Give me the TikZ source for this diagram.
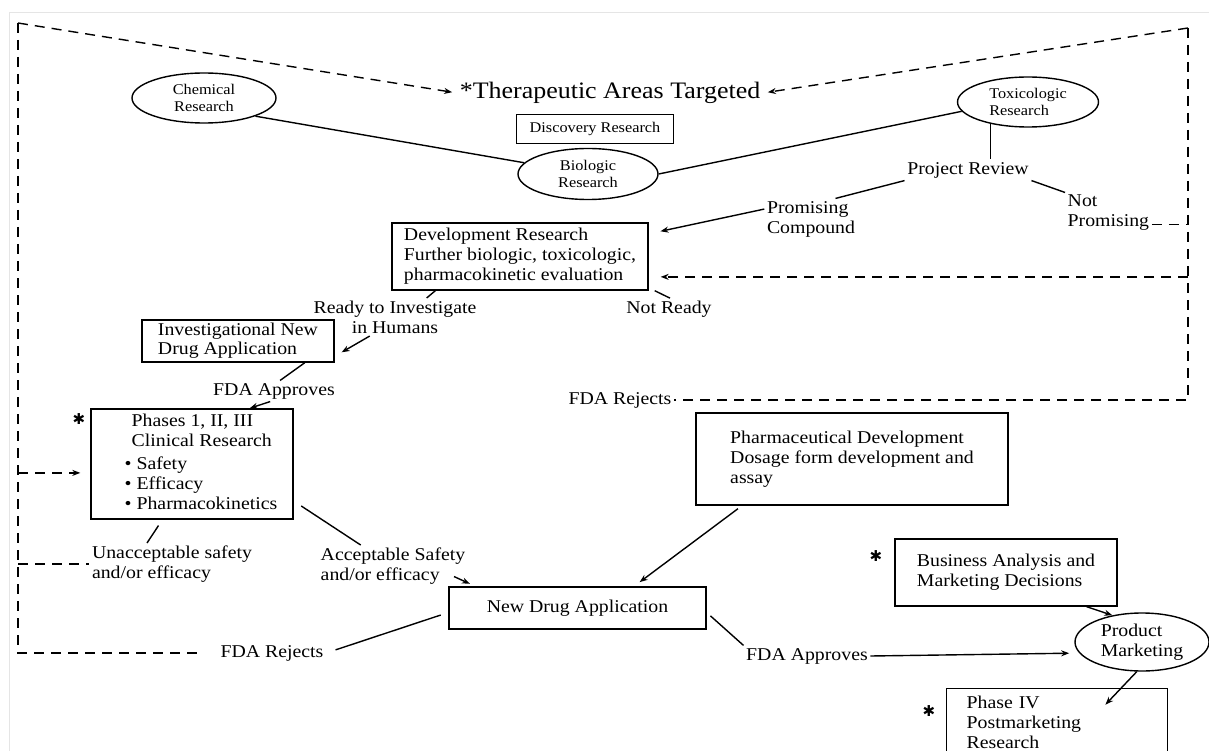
\documentclass[tikz,border=0pt]{standalone}
\usepackage{fontspec}
\setmainfont{Liberation Serif}[FakeStretch=1.1]
\newfontfamily\symfont{DejaVu Sans}
\usetikzlibrary{shapes.geometric, arrows.meta}
\newcommand{\titlesz}{\fontsize{23.6}{26}\selectfont}
\newcommand{\mainsz}{\fontsize{18}{20}\selectfont}
\newcommand{\smallsz}{\fontsize{14.8}{17}\selectfont}

\begin{document}
\begin{tikzpicture}[x=1pt, y=-1pt, >={Stealth[length=8pt,width=6pt]}, line width=1.4pt,
	every node/.style={font=\mainsz, inner sep=2pt, align=left},
	oval/.style={draw, ellipse, inner sep=0pt, font=\smallsz},
	box/.style={draw, rectangle, inner sep=0pt},
	dashline/.style={dash pattern=on 10pt off 7pt},
	star/.style={font=\symfont\fontsize{15}{15}\selectfont, inner sep=0pt}]
	\useasboundingbox (0,0) rectangle (1209,751);
	\clip (0,0) rectangle (1209,751);
	\draw[black!10, line width=1pt] (9,751) -- (9,13) -- (1209,13);
	\coordinate (tl) at (18,23);
	\coordinate (tr) at (1188,28);

	% discovery
	\node (areas) [font=\titlesz] at (610,93) {*Therapeutic Areas Targeted};
	\node (disc) [box, font=\smallsz, minimum width=157pt, minimum height=29pt] at (595,129) {Discovery Research};
	\node (chem) [oval, minimum width=144pt, minimum height=50pt, align=center] at (204,98) {Chemical\\Research};
	\node (bio) [oval, minimum width=140pt, minimum height=51pt, align=center] at (588,174) {Biologic\\Research};
	\node (tox) [oval, minimum width=141pt, minimum height=50pt] at (1028,102) {Toxicologic\\Research};
	\node (review) at (968,170) {Project Review};
	\node (promising) at (811,219) {Promising\\Compound};
	\node (notprom) [anchor=west] at (1065,213) {Not\\Promising};

	% development
	\node (devres) [box, minimum width=256pt, minimum height=67pt] at (520,256.5) {Development Research\\Further biologic, toxicologic,\\pharmacokinetic evaluation};
	\node (ready) [align=center] at (395,317) {Ready to Investigate\\in Humans};
	\node (notready) at (669,309) {Not Ready};
	\node (ind) [box, minimum width=192pt, minimum height=42pt, font=\fontsize{18}{19}\selectfont] at (238,341) {Investigational New\\Drug Application};
	\node (fdaok) at (274,391) {FDA Approves};
	\node (rejtop) at (620,400) {FDA Rejects};

	% clinical
	\node (phases) [box, minimum width=202pt, minimum height=110pt] at (192,464) {\hspace*{18pt}\begin{tabular}{@{}l@{}}\hspace*{7pt}Phases 1, II, III\\ \hspace*{7pt}Clinical Research\\[3pt] \textbullet~Safety\\ \textbullet~Efficacy\\ \textbullet~Pharmacokinetics\end{tabular}};
	\node (unacc) at (172,564) {Unacceptable safety\\and/or efficacy};
	\node (acc) at (393,566) {Acceptable Safety\\and/or efficacy};
	\node (pharm) [box, minimum width=312pt, minimum height=92pt] at (852,459) {Pharmaceutical Development\\Dosage form development and\\assay};
	\node (nda) [box, minimum width=257pt, minimum height=42pt] at (577.5,608) {New Drug Application};
	\node (rejbot) at (272,653) {FDA Rejects};
	\node (fdaokb) at (807,656) {FDA Approves};

	% marketing
	\node (business) [box, minimum width=222pt, minimum height=67pt] at (1006,572.5) {Business Analysis and\\Marketing Decisions};
	\node (product) [oval, font=\mainsz, minimum width=134pt, minimum height=58pt] at (1142,642) {Product\\Marketing};
	\node (phase4) [box, anchor=north west, text width=181pt, inner xsep=20pt, inner ysep=7pt] at (946,688) {Phase IV\\Postmarketing\\Research};
	\foreach \n/\x/\y in {sa/79/419, sb/876/556, sc/929/711}
		\node (\n) [star] at (\x,\y) {✱};

	% solid connectors
	\draw (chem.south east) -- (bio.170);
	\draw (bio.east) -- (tox.188);
	\draw (tox.210) -- (tox.210 |- review.north);
	\draw (review.south west) -- (promising.40);
	\draw (review.south east) -- (notprom.north west);
	\draw[->, shorten >=12pt] (promising.168) -- (devres.10);
	\draw (devres.202) -- (ready.31);
	\draw ([xshift=6pt]devres.south east) -- (notready.85);
	\draw[->, shorten >=8pt] (ready.217) -- (ind.-9);
	\draw (ind.-18) -- (fdaok.60);
	\draw[->] (fdaok.-110) -- (phases.44);
	\draw[shorten <=7pt] (phases.-118) -- (unacc.140);
	\draw[shorten <=9pt] (phases.-20) -- (acc.147);
	\draw[->, shorten >=6pt] ([xshift=-14pt]acc.-8) -- (nda.168);
	\draw[->, shorten <=5pt, shorten >=7pt] (pharm.203) -- (nda.21);
	\draw[shorten <=8pt, shorten >=10pt] (nda.182) -- (rejbot.east);
	\draw[shorten <=5pt] (nda.-2) -- (fdaokb.north west);
	\draw[->, shorten >=10pt] (fdaokb.east) -- (product.190);
	\draw[->] (business.-23) -- (product.138);
	\draw[->, shorten >=-23pt] (product.-100) -- (phase4.28);

	% dashed returns
	\draw[dashline, ->, shorten >=5pt] (tl) -- (areas.west);
	\draw[dashline, ->, shorten >=5pt] (tr) -- (areas.east);
	\draw[dashline, shorten >=14pt] (tl) |- (rejbot.west);
	\draw[dashline] (tr) |- (rejtop.east);
	\draw[dashline] (notprom.-15) -- (notprom.-15 -| tr);
	\draw[dashline, ->, shorten >=12pt] (devres.-9 -| tr) -- (devres.-9);
	\draw[dashline, ->, shorten >=10pt] (phases.185 -| tl) -- (phases.185);
	\draw[dashline] (unacc.west -| tl) -- (unacc.west);
\end{tikzpicture}
\end{document}
